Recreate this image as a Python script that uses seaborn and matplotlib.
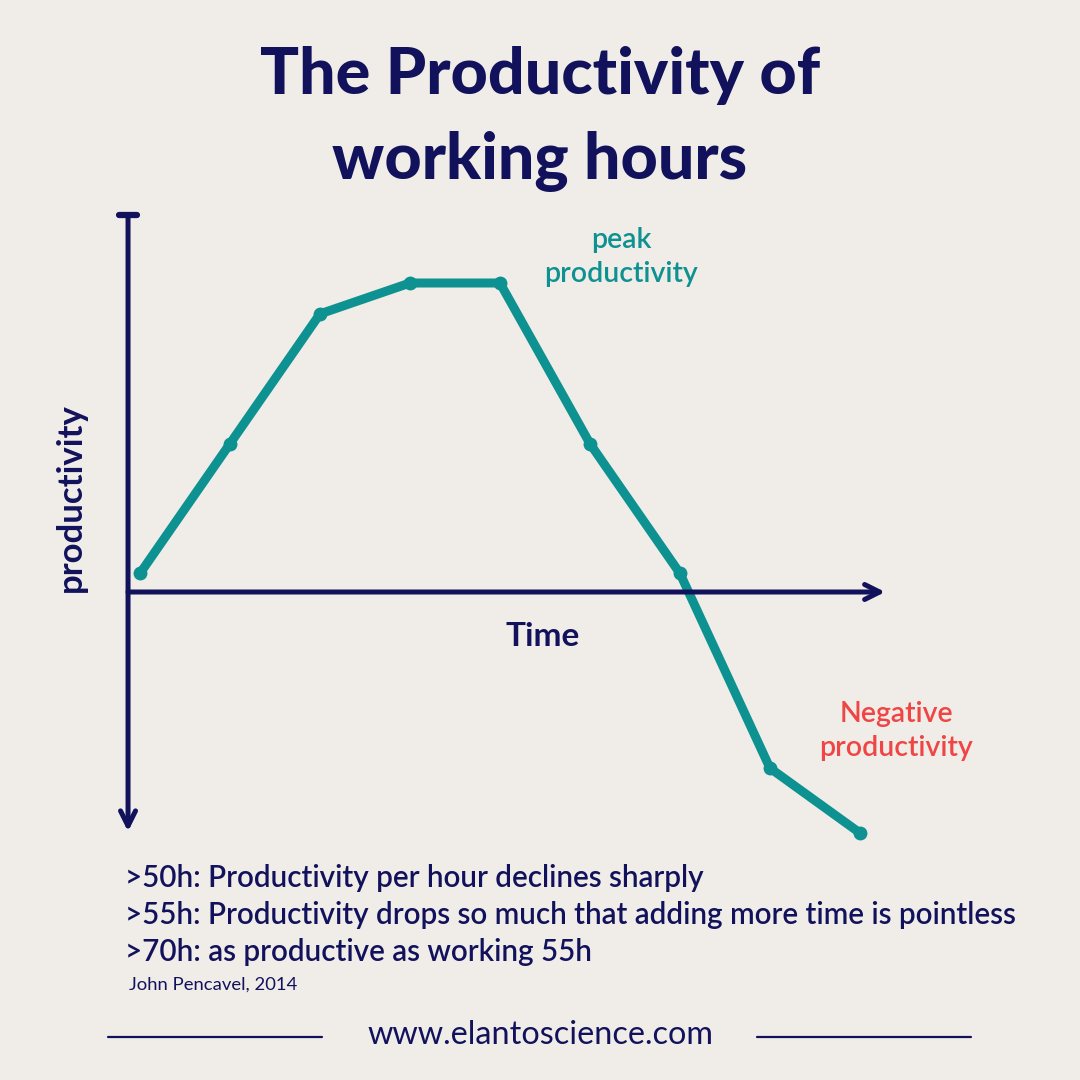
import numpy as np
import pandas as pd
import seaborn as sns
import matplotlib.pyplot as plt

# Curve values (arbitrary productivity units, 0 = the time axis)
time_step = [0, 1, 2, 3, 4, 5, 6, 7, 8]
productivity = [6, 48, 90, 100, 100, 48, 6, -57, -78]

title_text = "The Productivity of\nworking hours"
notes = [
    ">50h: Productivity per hour declines sharply",
    ">55h: Productivity drops so much that adding more time is pointless",
    ">70h: as productive as working 55h",
]
source_text = "John Pencavel, 2014"
site_text = "www.elantoscience.com"

NAVY = "#12125c"
TEAL = "#0e9191"
RED = "#f04545"
BG = "#f0ede8"

sns.set_theme(style="white")
plt.rcParams["font.family"] = ["Lato", "DejaVu Sans"]

df = pd.DataFrame({"time": time_step, "productivity": productivity})

fig = plt.figure(figsize=(10.8, 10.8), dpi=100, facecolor=BG)
ax = fig.add_axes([0, 0, 1, 1])
ax.set_facecolor(BG)
ax.axis("off")

# hand-drawn axes
y_axis_x = -0.133
ax.annotate("", xy=(y_axis_x, -77.5), xytext=(y_axis_x, 122),
            arrowprops=dict(arrowstyle="->,head_length=0.9,head_width=0.45",
                            color=NAVY, lw=3.6, shrinkA=0, shrinkB=0,
                            capstyle="round", joinstyle="round"))
ax.plot([y_axis_x - 0.1, y_axis_x + 0.1], [122, 122], color=NAVY, lw=4.5,
        solid_capstyle="round")
ax.annotate("", xy=(8.28, 0), xytext=(y_axis_x, 0),
            arrowprops=dict(arrowstyle="->,head_length=0.9,head_width=0.45",
                            color=NAVY, lw=3.6, shrinkA=0, shrinkB=0,
                            capstyle="round", joinstyle="round"))

sns.lineplot(data=df, x="time", y="productivity", ax=ax, color=TEAL,
             linewidth=6.5, marker="o", markersize=10, markeredgewidth=0,
             solid_capstyle="round", solid_joinstyle="round")

# map data so that one step = 90 px and one unit = 3.09 px
ax.set_xlim(-140 / 90, 940 / 90)
ax.set_ylim((592 - 1080) / 3.09, 592 / 3.09)

# title
fig.text(0.5, 1 - 119 / 1080, title_text, ha="center", va="center",
         fontsize=46.5, fontweight="black", color=NAVY, linespacing=1.55)

# axis labels
fig.text(71 / 1080, 1 - 498 / 1080, "productivity", rotation=90,
         ha="center", va="center", fontsize=25, fontweight="bold", color=NAVY)
fig.text(543 / 1080, 1 - 637 / 1080, "Time", ha="center", va="center",
         fontsize=24, fontweight="bold", color=NAVY)

# annotations
fig.text(621 / 1080, 1 - 257 / 1080, "peak\nproductivity", ha="center",
         va="center", fontsize=20.5, color=TEAL, fontweight="semibold",
         linespacing=1.35)
fig.text(896 / 1080, 1 - 731 / 1080, "Negative\nproductivity", ha="center",
         va="center", fontsize=20.5, color=RED, fontweight="semibold",
         linespacing=1.35)

# notes
for i, line in enumerate(notes):
    fig.text(125 / 1080, 1 - (878 + 37 * i) / 1080, line, ha="left",
             va="center", fontsize=21.3, color=NAVY, fontweight="semibold")
fig.text(129 / 1080, 1 - 985 / 1080, source_text, ha="left", va="center",
         fontsize=13.3, color=NAVY)

# footer
fig.text(0.5, 1 - 1035 / 1080, site_text, ha="center", va="center",
         fontsize=23.3, color=NAVY)
fig.add_artist(plt.Line2D([108 / 1080, 322 / 1080], [1 - 1037 / 1080] * 2,
                          color=NAVY, lw=1.6))
fig.add_artist(plt.Line2D([757 / 1080, 971 / 1080], [1 - 1037 / 1080] * 2,
                          color=NAVY, lw=1.6))

fig.savefig("out.png", dpi=100, facecolor=BG)
